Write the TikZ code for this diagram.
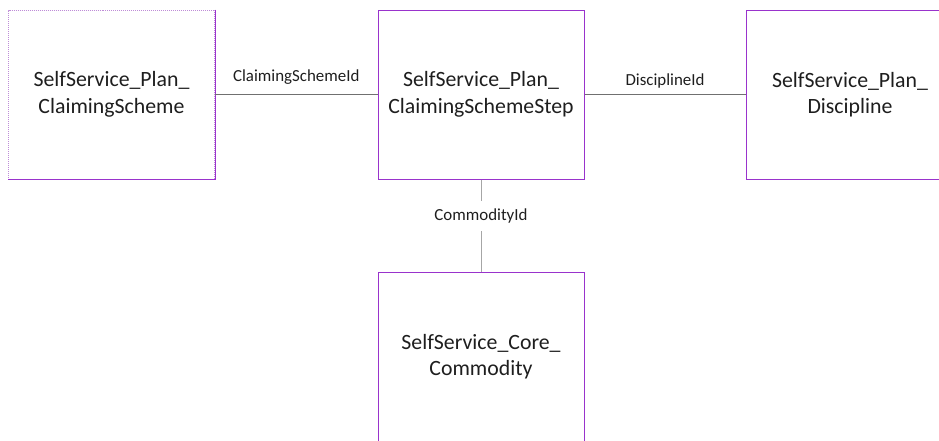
\documentclass[tikz,border=0pt]{standalone}
\usepackage{fontspec}
\setmainfont{Carlito}
\definecolor{boxpurple}{RGB}{153,51,204}
\definecolor{boxlight}{RGB}{190,140,215}
\definecolor{linkgray}{RGB}{112,112,112}
\definecolor{linklight}{RGB}{166,166,166}
\definecolor{txt}{RGB}{30,30,30}
\begin{document}
\begin{tikzpicture}[x=1pt, y=-1pt,
		tbl/.style={draw=boxpurple, line width=1pt, minimum width=206pt, minimum height=169pt,
			inner sep=0pt, align=center, text=txt, font=\fontsize{21.8}{26.5}\selectfont},
		lbl/.style={text=txt, font=\fontsize{16.9}{20}\selectfont},
		link/.style={draw=linkgray, line width=1pt}]
		\useasboundingbox (0, 0) rectangle (939, 440);

		% tabelle
		\node[tbl, draw=boxlight, densely dotted] (scheme) at (111.5, 94.5) {SelfService\_Plan\_\\ClaimingScheme};
		\draw[boxpurple, line width=1pt] (scheme.north east) -- (scheme.south east) -- (scheme.south west);
		\node[tbl] (step) at (481, 94.5) {SelfService\_Plan\_\\ClaimingSchemeStep};
		\node[tbl, minimum width=208pt] (discipline) at (850, 94.5) {SelfService\_Plan\_\\Discipline};
		\node[tbl] (commodity) at (481, 356.5) {SelfService\_Core\_\\Commodity};

		% relazioni
		\draw[link] (scheme) -- (step) node[lbl, midway, yshift=17.5pt] {ClaimingSchemeId};
		\draw[link] (step) -- (discipline) node[lbl, midway, yshift=13.5pt] {DisciplineId};
		\node[lbl, minimum height=30pt, inner sep=0pt] (cid) at (481, 216) {CommodityId};
		\draw[link, draw=linklight] (step) -- (cid) -- (commodity);
	\end{tikzpicture}
\end{document}
